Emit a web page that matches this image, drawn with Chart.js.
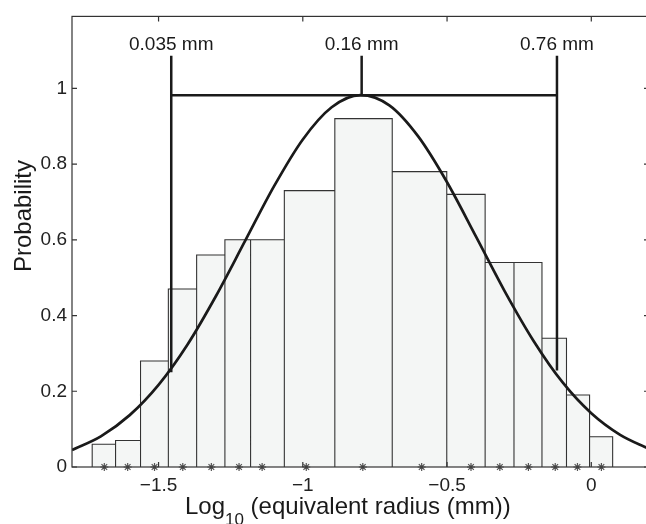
<!DOCTYPE html>
<html>
<head>
<meta charset="utf-8">
<script src="https://cdn.jsdelivr.net/npm/chart.js@4.4.1/dist/chart.umd.min.js"></script>
<style>
  html, body { margin: 0; padding: 0; background: #fff; overflow: hidden; }
  #c { display: block; }
</style>
</head>
<body>
<canvas id="c" width="662" height="524"></canvas>
<script>
// histogram bins (log10 radius) and heights
const binEdges = [-1.730, -1.649, -1.5625, -1.466, -1.368, -1.270, -1.181, -1.064, -0.889,
                  -0.690, -0.501, -0.368, -0.268, -0.171, -0.086, -0.006, 0.074];
const binHeights = [0.06, 0.07, 0.28, 0.47, 0.56, 0.60, 0.60, 0.73, 0.92,
                    0.78, 0.72, 0.54, 0.54, 0.34, 0.19, 0.08];

// asterisks along the bottom axis
const starX = [-1.688, -1.607, -1.514, -1.416, -1.317, -1.221, -1.141, -0.988,
               -0.792, -0.588, -0.417, -0.317, -0.218, -0.125, -0.048, 0.035];

// fitted curve
const curveX = [-1.8, -1.7, -1.6, -1.5, -1.4, -1.3, -1.2, -1.1, -1.0, -0.9, -0.8,
                -0.7, -0.6, -0.5, -0.4, -0.3, -0.2, -0.1, 0.0, 0.1, 0.2];
const curveY = [0.045, 0.081, 0.137, 0.217, 0.323, 0.453, 0.597, 0.741, 0.865, 0.950, 0.982,
                0.955, 0.873, 0.752, 0.609, 0.464, 0.333, 0.224, 0.142, 0.085, 0.048];

// size markers
const markerX = [-1.456, -0.796, -0.119];
const markerText = ['0.035 mm', '0.16 mm', '0.76 mm'];
const markerFoot = [0.25, 0.982, 0.255];
const markerTop = 1.086;
const markerBar = 0.982;
const markerLabelY = 1.10;

const xTicks = [-1.5, -1, -0.5, 0];
const yTicks = [0, 0.2, 0.4, 0.6, 0.8, 1];

const FONT = '"Liberation Sans", Arial, Helvetica, sans-serif';
const INK = '#1a1a1a';

const fmt = v => (v < 0 ? '\u2212' + (-v) : String(v));

// outline of the histogram as one closed path
const barPath = [];
binHeights.forEach((h, i) => {
  barPath.push({ x: binEdges[i], y: 0 }, { x: binEdges[i], y: h },
               { x: binEdges[i + 1], y: h }, { x: binEdges[i + 1], y: 0 });
});

const seg = (x0, y0, x1, y1) => ({
  type: 'line',
  data: [{ x: x0, y: y0 }, { x: x1, y: y1 }],
  borderColor: INK, borderWidth: 2.5, pointRadius: 0, order: 1
});

const frame = {
  id: 'frame',
  afterDatasetsDraw(chart) {
    const { ctx, chartArea: a, scales: { x, y } } = chart;
    ctx.save();
    ctx.strokeStyle = '#333';
    ctx.lineWidth = 1.2;
    ctx.strokeRect(a.left, a.top, a.right - a.left, a.bottom - a.top);
    ctx.beginPath();
    xTicks.forEach(v => {
      const p = x.getPixelForValue(v);
      ctx.moveTo(p, a.bottom); ctx.lineTo(p, a.bottom - 5);
      ctx.moveTo(p, a.top); ctx.lineTo(p, a.top + 5);
    });
    yTicks.forEach(v => {
      const p = y.getPixelForValue(v);
      ctx.moveTo(a.left, p); ctx.lineTo(a.left + 5, p);
      ctx.moveTo(a.right, p); ctx.lineTo(a.right - 5, p);
    });
    ctx.stroke();

    ctx.fillStyle = INK;
    ctx.font = '19px ' + FONT;
    ctx.textAlign = 'center';
    ctx.textBaseline = 'alphabetic';
    markerX.forEach((mx, i) => {
      ctx.fillText(markerText[i], x.getPixelForValue(mx), y.getPixelForValue(markerLabelY));
    });
    ctx.restore();
  },
  afterDraw(chart) {
    const { ctx } = chart;
    ctx.save();
    ctx.fillStyle = INK;
    ctx.textBaseline = 'alphabetic';
    ctx.textAlign = 'left';
    // x title with subscript
    let tx = 185;
    ctx.font = '24px ' + FONT;
    ctx.fillText('Log', tx, 514);
    tx += ctx.measureText('Log').width;
    ctx.font = '17px ' + FONT;
    ctx.fillText('10', tx, 525);
    tx += ctx.measureText('10').width;
    ctx.font = '24px ' + FONT;
    ctx.fillText(' (equivalent radius (mm))', tx, 514);
    // y title
    ctx.translate(31, 216);
    ctx.rotate(-Math.PI / 2);
    ctx.textAlign = 'center';
    ctx.fillText('Probability', 0, 0);
    ctx.restore();
  }
};

new Chart(document.getElementById('c'), {
  type: 'line',
  data: {
    datasets: [
      {
        data: starX.map(v => ({ x: v, y: 0 })),
        showLine: false, pointStyle: 'star', pointRadius: 4,
        borderColor: '#555', borderWidth: 1.2, backgroundColor: '#555',
        clip: false, order: 0
      },
      seg(markerX[0], markerFoot[0], markerX[0], markerTop),
      seg(markerX[2], markerFoot[2], markerX[2], markerTop),
      seg(markerX[1], markerFoot[1], markerX[1], markerTop),
      seg(markerX[0], markerBar, markerX[2], markerBar),
      {
        data: curveX.map((v, i) => ({ x: v, y: curveY[i] })),
        borderColor: INK, borderWidth: 2.7, pointRadius: 0,
        cubicInterpolationMode: 'monotone', order: 2
      },
      {
        data: barPath,
        borderColor: '#333', borderWidth: 1.1, pointRadius: 0,
        backgroundColor: '#f4f6f5', fill: 'origin', order: 3
      }
    ]
  },
  options: {
    responsive: false,
    devicePixelRatio: 1,
    animation: false,
    layout: { padding: { top: 12, right: 13, left: 0, bottom: 0 } },
    plugins: { legend: { display: false }, tooltip: { enabled: false } },
    scales: {
      x: {
        type: 'linear', min: -1.8, max: 0.2,
        afterBuildTicks: s => { s.ticks = xTicks.map(v => ({ value: v })); },
        afterFit: s => { s.height = 57; },
        grid: { display: false, drawTicks: false },
        border: { display: false },
        ticks: { font: { family: FONT, size: 19 }, color: '#222', padding: 7, maxRotation: 0, callback: fmt }
      },
      y: {
        type: 'linear', min: 0, max: 1.19,
        afterBuildTicks: s => { s.ticks = yTicks.map(v => ({ value: v })); },
        afterFit: s => { s.width = 72; },
        grid: { display: false, drawTicks: false },
        border: { display: false },
        ticks: { font: { family: FONT, size: 19 }, color: '#222', padding: 5, callback: fmt }
      }
    }
  },
  plugins: [frame]
});
</script>
</body>
</html>
